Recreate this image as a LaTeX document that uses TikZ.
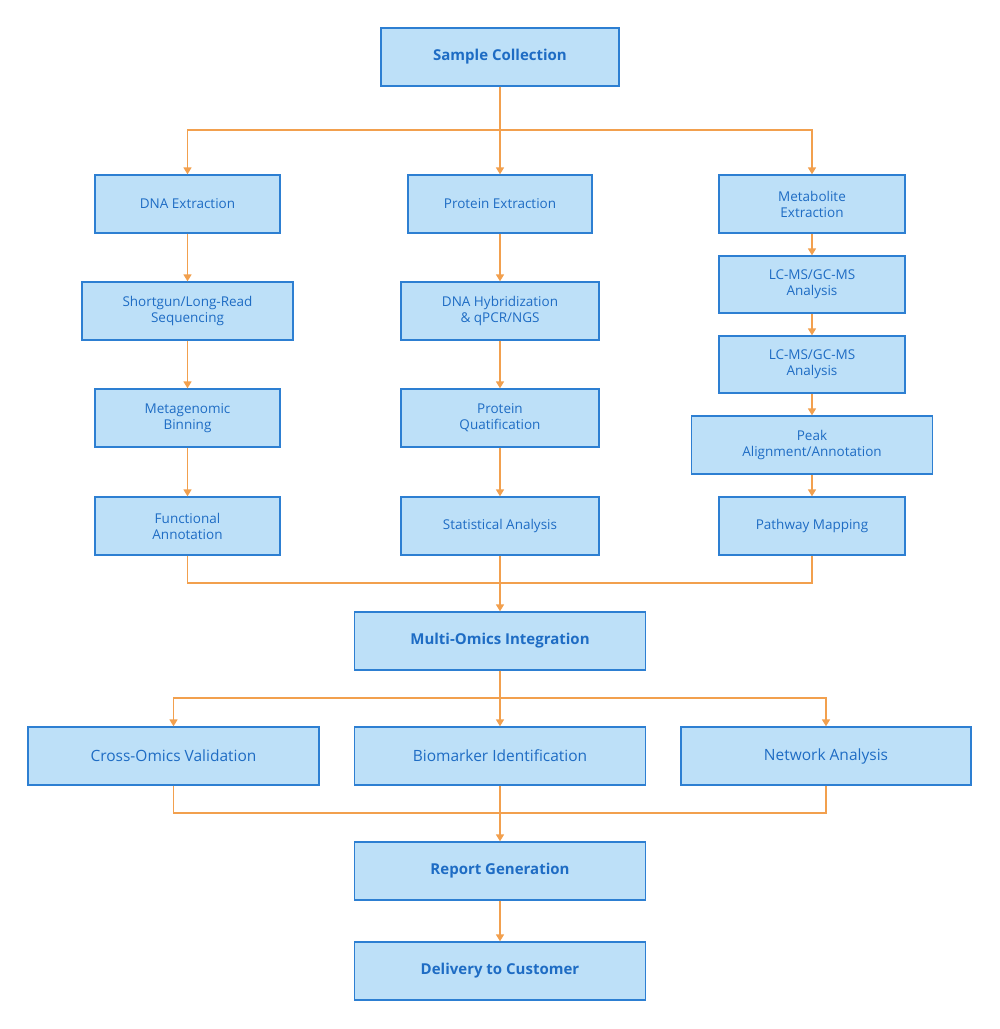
\documentclass[tikz,border=0pt]{standalone}
\usepackage{fontspec}
\setmainfont{Open Sans}
\usetikzlibrary{arrows.meta}
\definecolor{bfill}{HTML}{BDE0F8}
\definecolor{bdraw}{HTML}{2D7FD2}
\definecolor{btext}{HTML}{1E6CC4}
\definecolor{arr}{HTML}{F2A04E}
\begin{document}
\begin{tikzpicture}[x=1pt,y=1pt,
 box/.style={draw=bdraw,fill=bfill,line width=1.3pt,text=btext,font=\fontsize{13.5}{16}\selectfont,align=center,minimum height=58pt,inner sep=2pt},
 big/.style={box,font=\fontsize{15}{18}\selectfont\bfseries},
 ln/.style={draw=arr,line width=1.5pt},
 ar/.style={ln,-{Triangle[length=7pt,width=8pt]}}]
\useasboundingbox[fill=white] (0,0) rectangle (1000,-1029);
\node[big,minimum width=238pt] (s) at (500,-57) {Sample Collection};
\node[box,minimum width=185pt] (dna) at (187.5,-204) {DNA Extraction};
\node[box,minimum width=184pt] (pro) at (500,-204) {Protein Extraction};
\node[box,minimum width=186pt] (met) at (812,-204) {Metabolite\\Extraction};
\node[box,minimum width=211pt] (sg) at (187.5,-311) {Shortgun/Long-Read\\Sequencing};
\node[box,minimum width=198pt] (hyb) at (500,-311) {DNA Hybridization\\\& qPCR/NGS};
\node[box,minimum width=186pt,minimum height=57pt] (lc1) at (812,-284.5) {LC-MS/GC-MS\\Analysis};
\node[box,minimum width=186pt,minimum height=57pt] (lc2) at (812,-364.5) {LC-MS/GC-MS\\Analysis};
\node[box,minimum width=185pt] (bin) at (187.5,-418) {Metagenomic\\Binning};
\node[box,minimum width=198pt] (pq) at (500,-418) {Protein\\Quatification};
\node[box,minimum width=241pt] (peak) at (812,-445) {Peak\\Alignment/Annotation};
\node[box,minimum width=185pt] (fa) at (187.5,-526) {Functional\\Annotation};
\node[box,minimum width=198pt] (sa) at (500,-526) {Statistical Analysis};
\node[box,minimum width=186pt] (pm) at (812,-526) {Pathway Mapping};
\node[big,minimum width=291pt] (mo) at (500,-641) {Multi-Omics Integration};
\node[box,minimum width=291pt,font=\fontsize{15.5}{18}\selectfont] (co) at (173.5,-756) {Cross-Omics Validation};
\node[box,minimum width=291pt,font=\fontsize{15.5}{18}\selectfont] (bi) at (500,-756) {Biomarker Identification};
\node[box,minimum width=290pt,font=\fontsize{15.5}{18}\selectfont] (na) at (826,-756) {Network Analysis};
\node[big,minimum width=291pt] (rg) at (500,-871) {Report Generation};
\node[big,minimum width=291pt] (dc) at (500,-971) {Delivery to Customer};
% top branch
\draw[ar] (s) -- (pro);
\draw[ar] (s.south) |- (187.5,-130) -- (dna);
\draw[ar] (s.south) |- (812,-130) -- (met);
\draw[ar] (dna) -- (sg); \draw[ar] (sg) -- (bin); \draw[ar] (bin) -- (fa);
\draw[ar] (pro) -- (hyb); \draw[ar] (hyb) -- (pq); \draw[ar] (pq) -- (sa);
\draw[ar] (met) -- (lc1); \draw[ar] (lc1) -- (lc2); \draw[ar] (lc2) -- (peak); \draw[ar] (peak) -- (pm);
% merge
\draw[ln] (fa.south) |- (500,-583);
\draw[ln] (pm.south) |- (500,-583);
\draw[ar] (sa) -- (mo);
% second branch
\draw[ar] (mo) -- (bi);
\draw[ar] (mo.south) |- (173.5,-698) -- (co);
\draw[ar] (mo.south) |- (826,-698) -- (na);
\draw[ln] (co.south) |- (500,-813);
\draw[ln] (na.south) |- (500,-813);
\draw[ar] (bi) -- (rg);
\draw[ar] (rg) -- (dc);
\end{tikzpicture}
\end{document}
